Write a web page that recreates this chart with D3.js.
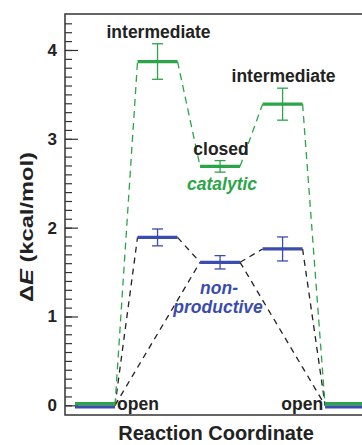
<!DOCTYPE html>
<html>
<head>
<meta charset="utf-8">
<script src="https://cdn.jsdelivr.net/npm/d3@7"></script>
<style>
  body { margin: 0; background: #fff; }
  svg text { font-family: "Liberation Sans", Arial, sans-serif; font-weight: bold; }
</style>
</head>
<body>
<div id="chart"></div>
<script>
// Data
var states = [0, 1, 2, 3, 4],
    stateNames = ["open", "intermediate", "closed", "intermediate", "open"];
var catalytic = [0, 3.87, 2.69, 3.39, 0],
    catalyticErr = [0, 0.20, 0.065, 0.18, 0];
var nonProductive = [0, 1.89, 1.61, 1.76, 0],
    nonProductiveErr = [0, 0.095, 0.075, 0.135, 0];
// direct open <-> closed paths of the non-productive route
var shortcuts = [[0, 2], [2, 4]];
var yTicks = [0, 1, 2, 3, 4],
    yMinorTicks = d3.range(0, 44).map(function(d) { return d / 10; });

// Setup
var width = 362, height = 445;
var green = "#2ba548", blue = "#3a4cad";
var halfW = 0.32;

var svg = d3.select("#chart").append("svg")
    .attr("width", width)
    .attr("height", height);

var x = d3.scaleLinear().domain([-0.48, 4.27]).range([65, 362]);
var y = d3.scaleLinear().domain([-0.109, 4.405]).range([415, 14]);

// frame
svg.append("rect")
    .attr("x", 65).attr("y", 14)
    .attr("width", 400).attr("height", 401)
    .attr("fill", "none")
    .attr("stroke", "#333")
    .attr("stroke-width", 1.5);

// y axis (ticks point inwards)
var minorAxis = d3.axisLeft(y).tickValues(yMinorTicks).tickSizeInner(-7).tickSizeOuter(0).tickFormat("");
var majorAxis = d3.axisLeft(y).tickValues(yTicks).tickSizeInner(-13).tickSizeOuter(0).tickPadding(8).tickFormat(d3.format("d"));

svg.append("g").attr("transform", "translate(65,0)").call(minorAxis)
    .call(function(g) { g.select(".domain").remove(); })
    .selectAll("line").attr("stroke", "#333").attr("stroke-width", 1.2);
var gy = svg.append("g").attr("transform", "translate(65,0)").call(majorAxis);
gy.select(".domain").remove();
gy.selectAll("line").attr("stroke", "#333").attr("stroke-width", 1.2);
gy.selectAll("text")
    .attr("font-size", 17)
    .attr("font-family", "Liberation Sans, Arial, sans-serif")
    .attr("font-weight", "bold")
    .attr("fill", "#222");

// axis titles
svg.append("text")
    .attr("x", 216).attr("y", 440)
    .attr("text-anchor", "middle")
    .attr("font-size", 20)
    .attr("fill", "#222")
    .text("Reaction Coordinate");

var yt = svg.append("text")
    .attr("transform", "translate(33,227) rotate(-90)")
    .attr("text-anchor", "middle")
    .attr("font-size", 19)
    .attr("textLength", 150)
    .attr("lengthAdjust", "spacingAndGlyphs")
    .attr("fill", "#222");
yt.append("tspan").text("\u0394");
yt.append("tspan").attr("font-style", "italic").text("E");
yt.append("tspan").text(" (kcal/mol)");

// dashed connectors
function links(vals) {
    return d3.pairs(states).map(function(p) {
        return [p[0] + halfW, vals[p[0]], p[1] - halfW, vals[p[1]]];
    });
}
var blackLinks = links(nonProductive).concat(shortcuts.map(function(s) {
    return [s[0] + halfW, nonProductive[s[0]], s[1] - halfW, nonProductive[s[1]]];
}));

svg.append("g").selectAll("line")
    .data(blackLinks).enter().append("line")
    .attr("x1", function(d) { return x(d[0]); })
    .attr("y1", function(d) { return y(d[1]); })
    .attr("x2", function(d) { return x(d[2]); })
    .attr("y2", function(d) { return y(d[3]); })
    .attr("stroke", "#222")
    .attr("stroke-width", 1.3)
    .attr("stroke-dasharray", "6,5");

svg.append("g").selectAll("line")
    .data(links(catalytic)).enter().append("line")
    .attr("x1", function(d) { return x(d[0]); })
    .attr("y1", function(d) { return y(d[1]); })
    .attr("x2", function(d) { return x(d[2]); })
    .attr("y2", function(d) { return y(d[3]); })
    .attr("stroke", green)
    .attr("stroke-width", 1.3)
    .attr("stroke-dasharray", "7,5");

// levels + error bars
function drawLevels(vals, errs, color, offset) {
    var g = svg.append("g");
    g.selectAll("line.level")
        .data(states).enter().append("line")
        .attr("class", "level")
        .attr("x1", function(i) { return x(i - halfW); })
        .attr("x2", function(i) { return x(i + halfW); })
        .attr("y1", function(i) { return y(vals[i]) + (vals[i] === 0 ? offset : 0); })
        .attr("y2", function(i) { return y(vals[i]) + (vals[i] === 0 ? offset : 0); })
        .attr("stroke", color)
        .attr("stroke-width", 3.2);
    var eb = g.selectAll("g.err")
        .data(states.filter(function(i) { return errs[i] > 0; })).enter().append("g")
        .attr("class", "err")
        .attr("stroke", color)
        .attr("stroke-width", 1.3);
    eb.append("line")
        .attr("x1", function(i) { return x(i); }).attr("x2", function(i) { return x(i); })
        .attr("y1", function(i) { return y(vals[i] + errs[i]); })
        .attr("y2", function(i) { return y(vals[i] - errs[i]); });
    [1, -1].forEach(function(s) {
        eb.append("line")
            .attr("x1", function(i) { return x(i) - 5.5; }).attr("x2", function(i) { return x(i) + 5.5; })
            .attr("y1", function(i) { return y(vals[i] + s * errs[i]); })
            .attr("y2", function(i) { return y(vals[i] + s * errs[i]); });
    });
}
drawLevels(nonProductive, nonProductiveErr, blue, 1.6);
drawLevels(catalytic, catalyticErr, green, -1.6);

// state labels
states.forEach(function(i) {
    var t = svg.append("text").attr("font-size", 17.5).attr("fill", "#222");
    if (catalytic[i] === 0) {
        t.attr("x", i === 0 ? x(i + halfW) + 2 : x(i - halfW) - 2)
         .attr("y", y(0) + 5)
         .attr("text-anchor", i === 0 ? "start" : "end");
    } else {
        t.attr("x", x(i) + 1)
         .attr("y", y(catalytic[i] + catalyticErr[i]) - 6)
         .attr("text-anchor", "middle");
    }
    t.text(stateNames[i]);
});

svg.append("text")
    .attr("x", x(2) + 2).attr("y", y(catalytic[2]) + 24)
    .attr("text-anchor", "middle")
    .attr("font-size", 17.5)
    .attr("font-style", "italic")
    .attr("fill", green)
    .text("catalytic");

var np = svg.append("text")
    .attr("text-anchor", "middle")
    .attr("font-size", 17.5)
    .attr("font-style", "italic")
    .attr("fill", blue);
np.append("tspan").attr("x", x(2) - 1).attr("y", y(nonProductive[2]) + 32).text("non-");
np.append("tspan").attr("x", x(2) - 2).attr("y", y(nonProductive[2]) + 51).text("productive");
</script>
</body>
</html>
